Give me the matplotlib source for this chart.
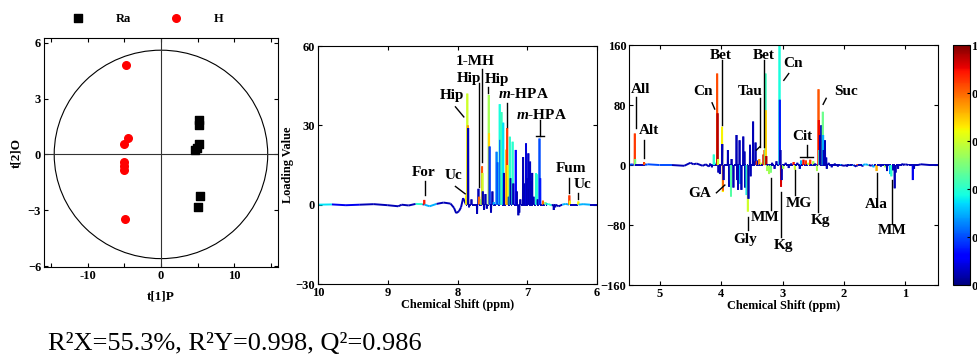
import numpy as np
import matplotlib
matplotlib.use("Agg")
import matplotlib.pyplot as plt
from matplotlib.collections import LineCollection
from matplotlib.patches import Ellipse
import matplotlib as mpl

plt.rcParams['font.family'] = ['Liberation Serif', 'DejaVu Serif']
plt.rcParams['font.weight'] = 'bold'
plt.rcParams['axes.labelweight'] = 'bold'
plt.rcParams['mathtext.fontset'] = 'custom'
plt.rcParams['mathtext.rm'] = 'Liberation Serif:bold'
plt.rcParams['mathtext.it'] = 'Liberation Serif:italic:bold'
plt.rcParams['mathtext.bf'] = 'Liberation Serif:bold'

# ---------------- Score plot data ----------------
ra_t1 = [5.2, 5.2, 5.2, 4.9, 4.6, 5.3, 5.1]
ra_t2 = [1.86, 1.59, 0.55, 0.34, 0.25, -2.25, -2.84]
h_t1 = [-4.8, -4.5, -5.1, -5.1, -5.0, -5.1, -4.9]
h_t2 = [4.8, 0.87, 0.55, -0.41, -0.6, -0.82, -3.46]
ellipse_t1 = 14.6
ellipse_t2 = 5.6

# ---------------- Loading plot 1 (aromatic region) ----------------
p2_ppm = [8.477, 7.875, 7.860, 7.852, 7.848, 7.835, 7.80, 7.72, 7.70, 7.69, 7.665,
          7.648, 7.643, 7.638, 7.62, 7.60, 7.58, 7.552, 7.548, 7.540, 7.52, 7.50, 7.48,
          7.44, 7.425, 7.395, 7.385, 7.37, 7.345, 7.335, 7.30, 7.288, 7.282, 7.265,
          7.25, 7.238, 7.21, 7.20, 7.165, 7.15, 7.128, 7.115, 7.10, 7.06, 7.045,
          7.018, 7.00, 6.985, 6.972, 6.96, 6.945, 6.93, 6.91, 6.874, 6.865, 6.85,
          6.825, 6.815, 6.775, 6.74, 6.72, 6.62, 6.60, 6.397, 6.39, 6.268]
p2_load = [1.8, 3.5, 42, 30, 29, -1, 2, -3.5, 6, 3, 2,
           14.5, 12, 5, -2, 4, -1.5, 41.5, 27, 22, -3, 5, 1,
           20, 16, 38, 24.5, 35, 31, 12, 20.8, 29, 15, 3,
           25.7, 10, 23.8, 8, 20.7, 5, -4, -3, 2, 18, 8,
           23.2, 10, 19.4, 6, 16.3, 9, 12, 3, 11.9, 11.5, 2,
           25, 10, 1.5, 1, 0.5, -2, -1, 3.5, 1.5, 1.2]
p2_corr = [0.88, 0.65, 0.6, 0.74, 0.05, 0.05, 0.05, 0.05, 0.05, 0.8, 0.5,
           0.82, 0.6, 0.05, 0.05, 0.05, 0.05, 0.55, 0.68, 0.18, 0.05, 0.05, 0.3,
           0.25, 0.2, 0.38, 0.2, 0.42, 0.35, 0.05, 0.72, 0.85, 0.65, 0.05,
           0.4, 0.05, 0.4, 0.05, 0.12, 0.05, 0.05, 0.05, 0.05, 0.05, 0.05,
           0.08, 0.05, 0.06, 0.05, 0.06, 0.05, 0.05, 0.05, 0.38, 0.4, 0.05,
           0.2, 0.15, 0.8, 0.5, 0.3, 0.05, 0.05, 0.85, 0.65, 0.65]
b2_ppm = [10.0, 9.8, 9.6, 9.4, 9.2, 9.0, 8.85, 8.8, 8.7, 8.6, 8.5, 8.4, 8.3, 8.2,
          8.1, 8.05, 8.02, 7.98, 7.95, 7.92, 6.7, 6.65, 6.55, 6.5, 6.45, 6.3, 6.2, 6.1, 6.0]
b2_load = [0.0, 0.1, -0.2, 0.0, 0.2, -0.2, -0.6, 0.0, -0.3, 0.3, 0.2, -0.6, 0.3, 0.8,
           0.4, -1.2, -3.2, -2.5, -1.0, 2.5, 0.3, -0.3, -0.6, 0.0, 0.3, 0.0, 0.2, 0.0, 0.0]
b2_corr = [0.1, 0.35, 0.1, 0.3, 0.05, 0.1, 0.05, 0.3, 0.05, 0.4, 0.05, 0.3, 0.05, 0.05,
           0.05, 0.05, 0.05, 0.05, 0.05, 0.05, 0.4, 0.05, 0.05, 0.05, 0.3, 0.05, 0.3, 0.05, 0.05]

# ---------------- Loading plot 2 (aliphatic region) ----------------
p3_ppm = [5.405, 5.40, 5.255, 5.24, 4.18, 4.15, 4.12, 4.10, 4.065, 4.058, 4.05, 4.045,
          4.02, 3.985, 3.978, 3.975, 3.97, 3.96, 3.89, 3.87, 3.84, 3.83, 3.80, 3.75,
          3.74, 3.725, 3.70, 3.69, 3.67, 3.64, 3.62, 3.61, 3.585, 3.565, 3.555, 3.53,
          3.52, 3.48, 3.47, 3.44, 3.42, 3.40, 3.38, 3.35, 3.31, 3.295, 3.278, 3.272,
          3.265, 3.25, 3.22, 3.19, 3.17, 3.13, 3.10, 3.05, 3.045, 3.035, 3.025, 3.015,
          2.99, 2.95, 2.90, 2.86, 2.82, 2.80, 2.76, 2.72, 2.70, 2.66, 2.62, 2.58, 2.55,
          2.50, 2.47, 2.44, 2.415, 2.41, 2.40, 2.39, 2.37, 2.345, 2.34, 2.33, 2.31, 2.29,
          2.28, 2.25, 2.20, 2.15, 2.10, 2.05, 1.95, 1.90, 1.85, 1.78, 1.70, 1.60, 1.52,
          1.47, 1.40, 1.33, 1.30, 1.25, 1.23, 1.20, 1.175, 1.16, 1.12, 1.05, 0.95, 0.88,
          0.86, 0.80]
p3_load = [42, 8, 4, 2, 2, -3, 14, 3, 122, 69, 8, -10,
           -12, 51, 28, -36, -34, -20, 20, -29, -42, 8, -30, 40,
           -20, -33, 33, -25, -33, 38, 18, -30, -40, -62, -45, 27,
           -15, 58, 5, 30, 5, 6, 8, 3, 14, 20, 122, 73,
           12, -8, -12, -10, 3, -5, 5, 160, 87, 20, -29, -20,
           -5, 3, -4, 2, 4, -6, 3, -5, 6, 7, 6, 3, 7,
           5, 2, -8, 101, 60, 20, 40, 53, 71, 40, 20, 33, 10,
           -5, 3, -3, 2, -2, 1, -2, 1, -1, 1, -2, -1, -3,
           -8, -2, -3, -8, -12, -15, -7, -31, -10, -5, 2, 1, -20,
           -5, 1]
p3_corr = [0.85, 0.5, 0.85, 0.8, 0.05, 0.05, 0.4, 0.4, 0.83, 0.95, 0.6, 0.05,
           0.05, 0.65, 0.05, 0.65, 0.8, 0.05, 0.05, 0.05, 0.45, 0.05, 0.05, 0.05,
           0.05, 0.05, 0.05, 0.3, 0.05, 0.05, 0.05, 0.05, 0.35, 0.6, 0.05, 0.05,
           0.05, 0.05, 0.05, 0.05, 0.85, 0.05, 0.75, 0.6, 0.95, 0.8, 0.42, 0.68,
           0.95, 0.55, 0.55, 0.5, 0.05, 0.05, 0.05, 0.38, 0.15, 0.05, 0.92, 0.05,
           0.55, 0.05, 0.05, 0.05, 0.88, 0.6, 0.05, 0.05, 0.3, 0.9, 0.85, 0.6, 0.85,
           0.55, 0.05, 0.55, 0.82, 0.9, 0.4, 0.05, 0.05, 0.48, 0.3, 0.05, 0.05, 0.05,
           0.05, 0.05, 0.05, 0.05, 0.05, 0.3, 0.05, 0.05, 0.3, 0.85, 0.05, 0.5, 0.3,
           0.72, 0.05, 0.55, 0.05, 0.3, 0.4, 0.05, 0.05, 0.05, 0.05, 0.05, 0.05, 0.1,
           0.05, 0.05]
b3_ppm = [5.5, 5.45, 5.35, 5.2, 5.0, 4.8, 4.6, 4.5, 4.45, 4.4, 4.3, 4.25, 4.2, 2.0,
          1.9, 1.8, 1.65, 1.55, 1.0, 0.9, 0.75, 0.6, 0.47]
b3_load = [0.0, 1.0, 0.0, 1.0, 0.0, 0.0, -1.0, 3.0, 1.0, 2.0, -1.0, 1.0, -2.0, -1.0,
           1.0, -2.0, 1.0, -1.0, 1.0, 0.0, 1.0, 0.0, 0.0]
b3_corr = [0.05, 0.2, 0.05, 0.2, 0.2, 0.2, 0.05, 0.05, 0.05, 0.05, 0.05, 0.05, 0.05,
           0.05, 0.4, 0.05, 0.3, 0.05, 0.05, 0.05, 0.05, 0.05, 0.05]

# labels: text, ppm, value
lab2 = [("For", 8.49, 12.2), ("Uc", 8.06, 11.0), ("Hip", 8.08, 41.4),
        ("Hip", 7.835, 47.6), ("1-MH", 7.74, 54.0), ("Hip", 7.437, 47.3),
        ("$\\mathit{m}$-HPA", 7.06, 41.7), ("$\\mathit{m}$-HPA", 6.79, 34.0),
        ("Fum", 6.37, 13.5), ("Uc", 6.21, 7.5)]
lab3 = [("All", 5.315, 101), ("Alt", 5.17, 46.7), ("Cn", 4.29, 98.7), ("Bet", 4.0, 145.8),
        ("GA", 4.35, -37.8), ("Gly", 3.605, -99), ("Tau", 3.535, 98.7), ("Bet", 3.30, 145.8),
        ("MM", 3.28, -69.8), ("Cn", 2.83, 135.6), ("Kg", 2.99, -106.7), ("MG", 2.74, -51),
        ("Cit", 2.68, 38.7), ("Kg", 2.384, -73.3), ("Suc", 1.96, 98.7), ("Ala", 1.48, -53),
        ("MM", 1.217, -87.6)]
# leader lines: x0, y0, x1, y1
lead2 = [(8.46, 8.8, 8.46, 3.5), (8.03, 6.9, 7.89, 4.1), (8.03, 37.0, 7.91, 33.2),
         (7.687, 46.0, 7.687, 6.8), (7.649, 51.5, 7.649, 16.3), (7.558, 44.6, 7.558, 42.1),
         (7.287, 38.3, 7.287, 29.5), (6.87, 26.1, 6.76, 26.1), (6.817, 32.0, 6.817, 26.1),
         (6.40, 10.0, 6.40, 4.3), (6.268, 4.3, 6.268, 2.0)]
lead3 = [(5.39, 91, 5.39, 49), (5.255, 33, 5.255, 9), (4.148, 83, 4.105, 74.7),
         (3.98, 140, 3.98, 53), (4.077, -37, 3.94, -26.7), (3.56, -69, 3.56, -87),
         (3.37, 89, 3.37, 24.4), (3.426, 20, 3.37, 24.4), (3.307, 140, 3.307, 24),
         (3.19, -17.8, 3.19, -60), (2.98, 113, 2.9, 122), (3.02, -35.6, 3.02, -96),
         (2.80, -6.7, 2.80, -40), (2.72, 11, 2.5, 11), (2.61, 26.7, 2.61, 11),
         (2.42, -11, 2.42, -62), (2.34, 81, 2.29, 89), (1.47, -11, 1.47, -42),
         (1.22, -20, 1.22, -78)]

W = 0.003  # half-width of a drawn spike (style)
BASEC = 0.05
cmap = plt.get_cmap('jet')


def spectrum(ax, ppm, load, corr, bppm, bload, bcorr):
    pts = list(zip(bppm, bload, bcorr))
    for p, h, c in zip(ppm, load, corr):
        pts += [(p + W, 0.0, BASEC), (p, h, c), (p - W, 0.0, BASEC)]
    pts.sort(key=lambda t: -t[0])
    xs = np.array([t[0] for t in pts])
    ys = np.array([t[1] for t in pts])
    cs = np.array([t[2] for t in pts])
    segs = np.stack([np.column_stack([xs[:-1], ys[:-1]]),
                     np.column_stack([xs[1:], ys[1:]])], axis=1)
    segc = np.where(np.abs(ys[1:]) > np.abs(ys[:-1]), cs[1:], cs[:-1])
    lc = LineCollection(segs, colors=cmap(segc), linewidths=1.4)
    ax.add_collection(lc)


def style(ax):
    ax.tick_params(direction='in', top=True, right=True, labelsize=9, length=3,
                   width=0.8, pad=2)
    for s in ax.spines.values():
        s.set_linewidth(0.8)
    for t in ax.get_xticklabels() + ax.get_yticklabels():
        t.set_fontweight('bold')


fig = plt.figure(figsize=(9.77, 3.56), dpi=100)

# ---- score plot ----
ax1 = fig.add_axes([0.045, 0.25, 0.2395, 0.643])
ax1.axhline(0, color='#333333', lw=0.8)
ax1.axvline(0, color='#333333', lw=0.8)
ax1.add_patch(Ellipse((0, 0), 2 * ellipse_t1, 2 * ellipse_t2, fill=False, lw=0.8,
                      ec='black'))
ax1.scatter(ra_t1, ra_t2, marker='s', s=28, c='black', label='Ra', zorder=3)
ax1.scatter(h_t1, h_t2, marker='o', s=30, c='red', label='H', zorder=3)
ax1.set_xlim(-16, 16)
ax1.set_ylim(-6.05, 6.25)
ax1.set_xticks([-15, -10, -5, 0, 5, 10, 15])
ax1.set_xticklabels(['', '-10', '', '0', '', '10', ''])
ax1.set_yticks([-6, -3, 0, 3, 6])
ax1.set_xlabel('t[1]P', fontsize=9.5, labelpad=6)
ax1.set_ylabel('t[2]O', fontsize=9.5, labelpad=4)
style(ax1)
leg = ax1.legend(loc='center', bbox_to_anchor=(0.43, 1.085), ncol=2, frameon=False,
                 handletextpad=2.0, columnspacing=2.6, fontsize=9, markerscale=1.0)
for t in leg.get_texts():
    t.set_fontweight('bold')

# ---- loading plot, aromatic ----
ax2 = fig.add_axes([0.3255, 0.2022, 0.2856, 0.6685])
spectrum(ax2, p2_ppm, p2_load, p2_corr, b2_ppm, b2_load, b2_corr)
ax2.set_xlim(10, 6)
ax2.set_ylim(-30, 60)
ax2.set_xticks([10, 9, 8, 7, 6])
ax2.set_yticks([-30, 0, 30, 60])
ax2.set_xlabel('Chemical Shift (ppm)', fontsize=8.8, labelpad=0)
ax2.set_ylabel('Loading Value', fontsize=8.8, labelpad=1)
style(ax2)
for txt, x, y in lab2:
    ax2.text(x, y, txt, ha='center', va='center', fontsize=11, fontweight='bold')
for x0, y0, x1, y1 in lead2:
    ax2.plot([x0, x1], [y0, y1], color='black', lw=1.0)

# ---- loading plot, aliphatic ----
ax3 = fig.add_axes([0.6438, 0.1994, 0.3163, 0.674])
spectrum(ax3, p3_ppm, p3_load, p3_corr, b3_ppm, b3_load, b3_corr)
ax3.set_xlim(5.5, 0.47)
ax3.set_ylim(-160, 160)
ax3.set_xticks([5, 4, 3, 2, 1])
ax3.set_yticks([-160, -80, 0, 80, 160])
ax3.set_xlabel('Chemical Shift (ppm)', fontsize=8.8, labelpad=0)
style(ax3)
for txt, x, y in lab3:
    ax3.text(x, y, txt, ha='center', va='center', fontsize=11, fontweight='bold')
for x0, y0, x1, y1 in lead3:
    ax3.plot([x0, x1], [y0, y1], color='black', lw=1.0)

# ---- colorbar ----
cax = fig.add_axes([0.9754, 0.1994, 0.0174, 0.674])
cb = mpl.colorbar.ColorbarBase(cax, cmap=cmap, norm=mpl.colors.Normalize(0, 1),
                               ticks=[0, 0.2, 0.4, 0.6, 0.8, 1.0])
cb.ax.set_yticklabels(['0', '0.2', '0.4', '0.6', '0.8', '1'])
cb.ax.tick_params(direction='in', length=2, pad=1, labelsize=9)
for t in cb.ax.get_yticklabels():
    t.set_fontweight('bold')
cb.outline.set_linewidth(0.8)

fig.text(0.049, 0.017, 'R²X=55.3%, R²Y=0.998, Q²=0.986', fontsize=19,
         fontweight='normal', family=['Liberation Serif'], ha='left', va='baseline')

fig.savefig('out.png', dpi=100)
